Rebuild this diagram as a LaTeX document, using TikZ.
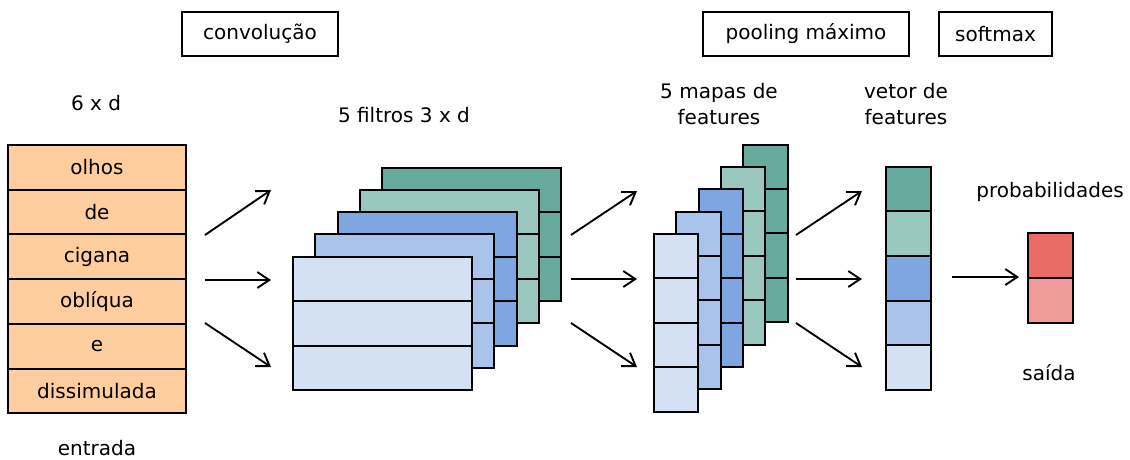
\documentclass[tikz,border=0pt]{standalone}
\usepackage{fontspec}
\setmainfont{DejaVu Sans}
\usetikzlibrary{arrows.meta}
\definecolor{peach}{HTML}{FFCE9F}
\definecolor{blueA}{HTML}{D4E1F5}
\definecolor{blueB}{HTML}{A9C4EB}
\definecolor{blueC}{HTML}{7EA6E0}
\definecolor{greenA}{HTML}{9AC7BF}
\definecolor{greenB}{HTML}{67AB9F}
\definecolor{redA}{HTML}{EA6B66}
\definecolor{redB}{HTML}{F19C99}
\begin{document}
\begin{tikzpicture}[x=1pt,y=-1pt,
  every node/.style={font=\fontsize{20}{26}\selectfont},
  cell/.style={inner sep=0pt, outer sep=0pt},
  edge/.style={draw=black, line width=2pt},
  stage/.style={draw=black, line width=1.5pt, inner sep=0pt, minimum height=44pt},
  label/.style={align=center, inner sep=0pt},
  flow/.style={line width=1.9pt, -{Straight Barb[length=12pt,width=16pt,line width=1.9pt]}}]
\useasboundingbox (0,0) rectangle (1130,459);

% stage headers
\node[stage, minimum width=156pt] (hconv) at (260,34) {convolução};
\node[stage, minimum width=206pt] (hpool) at (806,34) {pooling máximo};
\node[stage, minimum width=113pt] (hsoft) at (995.5,34) {softmax};

% input sentence, one word per row
\foreach \w [count=\i] in {olhos,de,cigana,oblíqua,e,dissimulada}
  \node[cell, fill=peach, minimum width=178pt, minimum height=44.72pt]
    (in\i) at (97,{122.64+44.72*\i}) {\w};
\foreach \i in {1,...,6}
  \draw[edge] (in\i.north west) rectangle (in\i.south east);
\node[label] (tdim) at (96,103) {6 x d};
\node[label] (tin) at (97,448) {entrada};

% five 3 x d filters, drawn back to front
\foreach \k/\c in {4/greenB,3/greenA,2/blueC,1/blueB,0/blueA}{
  \foreach \r in {1,2,3}
    \node[cell, fill=\c, minimum width=179pt, minimum height=44.45pt]
      (f\k-\r) at ({382.2+22.4*\k},{234.48-22.25*\k+44.45*\r}) {};
  \foreach \r in {1,2,3}
    \draw[edge] (f\k-\r.north west) rectangle (f\k-\r.south east);
}
\node[label] (tfil) at (404,115) {5 filtros 3 x d};

% five feature maps, drawn back to front
\foreach \k/\c in {4/greenB,3/greenA,2/blueC,1/blueB,0/blueA}{
  \foreach \r in {1,2,3,4}
    \node[cell, fill=\c, minimum width=44.3pt, minimum height=44.4pt]
      (m\k-\r) at ({676.15+22.35*\k},{211.8-22.35*\k+44.4*\r}) {};
  \foreach \r in {1,2,3,4}
    \draw[edge] (m\k-\r.north west) rectangle (m\k-\r.south east);
}
\node[label] (tmap) at (719,104) {5 mapas de\\features};

% pooled feature vector
\foreach \c [count=\i] in {greenB,greenA,blueC,blueB,blueA}
  \node[cell, fill=\c, minimum width=44.7pt, minimum height=44.66pt]
    (v\i) at (908.35,{144.37+44.66*\i}) {};
\foreach \i in {1,...,5}
  \draw[edge] (v\i.north west) rectangle (v\i.south east);
\node[label] (tvec) at (906,104) {vetor de\\features};

% softmax output
\node[cell, fill=redA, minimum width=45pt, minimum height=45pt] (o1) at (1050.8,255.8) {};
\node[cell, fill=redB, minimum width=45pt, minimum height=45pt] (o2) at (1050.8,300.8) {};
\foreach \i in {1,2}
  \draw[edge] (o\i.north west) rectangle (o\i.south east);
\node[label] (tprob) at (1050,192) {probabilidades};
\node[label] (tout) at (1049,373) {saída};

% arrow end points
\coordinate (a1s) at (205,235); \coordinate (a1e) at (271,190);
\coordinate (a2s) at (205,280); \coordinate (a2e) at (271,280);
\coordinate (a3s) at (205,323); \coordinate (a3e) at (271,367);
\coordinate (b1s) at (571,235); \coordinate (b1e) at (637,191);
\coordinate (b2s) at (571,279); \coordinate (b2e) at (637,279);
\coordinate (b3s) at (571,323); \coordinate (b3e) at (637,367);
\coordinate (c1s) at (796,235); \coordinate (c1e) at (862,191);
\coordinate (c2s) at (796,279); \coordinate (c2e) at (862,279);
\coordinate (c3s) at (796,323); \coordinate (c3e) at (862,367);
\coordinate (ds) at (952,277); \coordinate (de) at (1019,277);

\foreach \p in {a1,a2,a3,b1,b2,b3,c1,c2,c3}
  \draw[flow] (\p s) -- (\p e);
\draw[flow] (ds) -- (de);
\end{tikzpicture}
\end{document}
